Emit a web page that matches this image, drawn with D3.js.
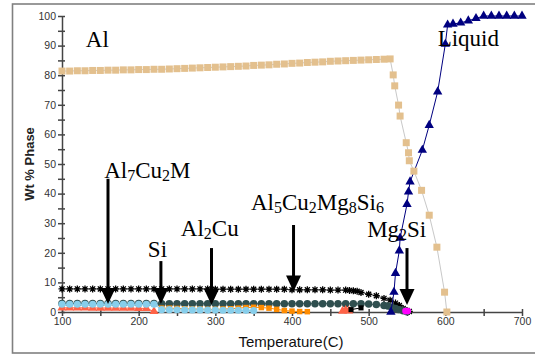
<!DOCTYPE html>
<html>
<head>
<meta charset="utf-8">
<script src="https://cdn.jsdelivr.net/npm/d3@7"></script>
<style>
  html, body { margin: 0; padding: 0; background: #fff; }
  svg { display: block; }
</style>
</head>
<body>
<svg id="chart" width="535" height="355"></svg>
<script>
// ---- Phase fractions (wt %) versus temperature (°C) ----

// Al (fcc matrix)
const alTemp = [100,110,120,130,140,150,160,170,180,190,200,210,220,230,240,250,260,270,280,290,
                300,310,320,330,340,350,360,370,380,390,400,410,420,430,440,450,460,470,480,490,
                500,510,520,528,532,534,539,541,549,552,553,559,569,579,589,599,602];
const alWt   = [81.4,81.4,81.5,81.5,81.6,81.6,81.7,81.7,81.8,81.8,81.9,81.9,82.0,82.0,82.1,82.2,82.3,82.4,82.5,82.6,
                82.7,82.8,82.9,83.0,83.1,83.3,83.4,83.5,83.7,83.8,84.0,84.1,84.3,84.4,84.5,84.7,84.8,84.9,85.0,85.1,
                85.2,85.3,85.4,85.5,80.1,76.4,69.9,66.2,57.2,53.8,51.1,47.6,41.1,32.7,21.9,6.7,0];

// Liquid
const liquidTemp = [529,533,535,540,541,550,552,554,570,579,590,600,603,610,620,630,640,650,660,670,680,690,700];
const liquidWt   = [0,6.7,13.1,20.7,25.0,36.4,40.6,44.0,54.7,63.1,74.4,90.5,97.0,97.3,97.7,98.4,99.2,100,100,100,100,100,100];

// Al7Cu2M
const al7Temp = [100,110,120,130,140,150,160,170,180,190,200,210,220,230,240,250,260,270,280,290,
                 300,310,320,330,340,350,360,370,380,390,400,410,420,430,440,450,460,470,
                 475,480,485,490,500,510,520,528,535,540,545,550,553];
const al7Wt   = [7.8,7.8,7.8,7.8,7.8,7.8,7.8,7.8,7.8,7.8,7.8,7.8,7.8,7.8,7.8,7.8,7.8,7.8,7.8,7.8,
                 7.7,7.7,7.7,7.7,7.7,7.7,7.7,7.7,7.7,7.7,7.5,7.5,7.5,7.5,7.5,7.4,7.4,7.4,
                 7.3,7.2,7.0,6.6,6.0,5.5,4.6,4.0,3.0,2.2,1.2,0.5,0.2];

// Al5Cu2Mg8Si6
const al5Temp = [100,110,120,130,140,150,160,170,180,190,200,210,220,230,240,250,260,270,280,290,
                 300,310,320,330,340,350,360,370,380,390,400,410,420,430,440,450,460,470,480,490,
                 500,510,520,525,530,535,540,545,550];
const al5Wt   = [2.9,2.9,2.9,2.9,2.9,2.9,2.9,2.9,2.9,2.9,2.9,2.9,2.9,2.8,2.8,2.8,2.8,2.8,2.8,2.8,
                 2.8,2.8,2.8,2.8,2.8,2.8,2.8,2.8,2.8,2.8,2.8,2.8,2.8,2.8,2.8,2.8,2.8,2.8,2.8,2.8,
                 2.7,2.5,2.2,2.0,1.6,1.2,0.8,0.4,0.1];

// Si
const siTemp = [100,110,120,130,140,150,160,170,180,190,200,210,220,
                230,240,250,260,270,280,290,300,310,320,330,340,350];
const siWt   = [2.6,2.6,2.6,2.6,2.6,2.6,2.6,2.6,2.6,2.6,2.6,2.6,2.6,
                0.8,0.8,0.75,0.7,0.7,0.7,0.65,0.65,0.6,0.6,0.6,0.55,0.5];

// Al2Cu
const al2cuTemp = [230,240,250,260,270,280,290,300,310,320,330,340,350,360,370,380,390,400,410,420];
const al2cuWt   = [1.3,1.3,1.2,1.1,1.0,1.0,0.9,0.9,1.0,1.1,1.3,1.5,1.6,1.5,1.3,0.9,0.5,0.3,0.15,0.1];

// Al-Cu-Mn type phase (low temperature branch and near-solidus branch)
const mnTemp = [100,110,120,130,140,150,160,170,180,190,200,210,220];
const mnWt   = [1.4,1.4,1.4,1.4,1.35,1.35,1.35,1.3,1.3,1.3,1.25,1.2,0.2];
const mn2Temp = [466,470,474];
const mn2Wt   = [0.3,0.6,0.4];

// Q-type / Mg2Si traces near the solidus
const qTemp = [477,490];
const qWt   = [0.8,1.4];
const mg2siTemp = [548,551];
const mg2siWt   = [0.3,0.3];

// Tick values
const xTicks = d3.range(100, 701, 50);
const yTicks = d3.range(0, 101, 5);

// Arrow annotations (temperature, label end → point end, in wt %)
const arrows = [
  { t: 160, from: 45, to: 2.7 },
  { t: 229, from: 17.2, to: 2.7 },
  { t: 295, from: 21.6, to: 2.4 },
  { t: 402, from: 29.4, to: 6.9 },
  { t: 550, from: 21.6, to: 2.4 }
];

// Phase labels: [text, isSubscript]
const labels = [
  { t: 131, w: 89.5, parts: [["Al", 0]] },
  { t: 590, w: 89.9, parts: [["Liquid", 0]] },
  { t: 155, w: 45.3, parts: [["Al", 0], ["7", 1], ["Cu", 0], ["2", 1], ["M", 0]] },
  { t: 212, w: 18.6, parts: [["Si", 0]] },
  { t: 255, w: 25.7, parts: [["Al", 0], ["2", 1], ["Cu", 0]] },
  { t: 346.5, w: 34.3, parts: [["Al", 0], ["5", 1], ["Cu", 0], ["2", 1], ["Mg", 0], ["8", 1], ["Si", 0], ["6", 1]] },
  { t: 498, w: 25.4, parts: [["Mg", 0], ["2", 1], ["Si", 0]] }
];

// ---- Drawing ----
const svg = d3.select("#chart");
const x = d3.scaleLinear().domain([100, 700]).range([62, 522]);
const y = d3.scaleLinear().domain([0, 100]).range([312, 16]);

// outer frame
svg.append("rect")
  .attr("x", 12.5).attr("y", 4).attr("width", 560).attr("height", 349)
  .attr("fill", "none").attr("stroke", "#808080").attr("stroke-width", 1.6);

const axisColor = "#444";
const tickFont = "'Liberation Sans', Arial, sans-serif";

const gy = svg.append("g")
  .attr("transform", `translate(${x(100)},0)`)
  .call(d3.axisLeft(y).tickValues(yTicks)
    .tickFormat(d => d % 10 === 0 ? d : "")
    .tickSizeInner(4).tickSizeOuter(0).tickPadding(2));
gy.select(".domain").attr("stroke", axisColor).attr("stroke-width", 1.5);
gy.selectAll(".tick line").attr("stroke", axisColor).attr("stroke-width", 1.5).attr("x1", 3);
gy.selectAll(".tick text").attr("font-family", tickFont).attr("font-size", 10.5).attr("fill", "#333");

const gx = svg.append("g")
  .attr("transform", `translate(0,${y(0)})`)
  .call(d3.axisBottom(x).tickValues(xTicks)
    .tickFormat(d => d % 100 === 0 ? d : "")
    .tickSizeInner(4).tickSizeOuter(0).tickPadding(2));
gx.select(".domain").attr("stroke", axisColor).attr("stroke-width", 1.5);
gx.selectAll(".tick line").attr("stroke", axisColor).attr("stroke-width", 1.5).attr("y1", -3);
gx.selectAll(".tick text").attr("font-family", tickFont).attr("font-size", 10.5).attr("fill", "#333");

// axis titles
svg.append("text")
  .attr("x", 291).attr("y", 347)
  .attr("text-anchor", "middle")
  .attr("font-family", tickFont).attr("font-size", 15).attr("fill", "#111")
  .text("Temperature(C)");
svg.append("text")
  .attr("transform", "translate(34,164) rotate(-90)")
  .attr("text-anchor", "middle")
  .attr("font-family", tickFont).attr("font-size", 13).attr("font-weight", "bold").attr("fill", "#222")
  .text("Wt % Phase");

// series helpers
const zip = (ts, ws) => ts.map((t, i) => ({ t, w: ws[i] }));
const lineGen = d3.line().x(d => x(d.t)).y(d => y(d.w));

const asterisk = {
  draw(ctx, size) {
    const r = Math.sqrt(size) / 2, s = r * 0.72;
    ctx.moveTo(-r, 0); ctx.lineTo(r, 0);
    ctx.moveTo(0, -r); ctx.lineTo(0, r);
    ctx.moveTo(-s, -s); ctx.lineTo(s, s);
    ctx.moveTo(-s, s); ctx.lineTo(s, -s);
  }
};

function drawSeries(data, o) {
  const g = svg.append("g");
  if (o.line) {
    g.append("path").attr("d", lineGen(data))
      .attr("fill", "none").attr("stroke", o.line).attr("stroke-width", o.lw || 1);
  }
  const sym = d3.symbol().type(o.type).size(o.size);
  g.selectAll("path.m").data(data).join("path")
    .attr("class", "m")
    .attr("transform", d => `translate(${x(d.t)},${y(d.w)})`)
    .attr("d", sym)
    .attr("fill", o.stroke ? "none" : o.color)
    .attr("stroke", o.stroke ? o.color : "none")
    .attr("stroke-width", o.stroke ? 1.3 : 0);
}

drawSeries(zip(al7Temp, al7Wt), { type: asterisk, size: 49, color: "#000", stroke: true, line: "#555" });
drawSeries(zip(al5Temp, al5Wt), { type: d3.symbolCircle, size: 44, color: "#2f4f4f", line: "#2f4f4f" });
drawSeries(zip(al2cuTemp, al2cuWt), { type: d3.symbolSquare, size: 30, color: "#ff8c00", line: "#ff8c00" });
drawSeries(zip(mnTemp, mnWt), { type: d3.symbolTriangle, size: 36, color: "#ff6347", line: "#ff6347" });
drawSeries(zip(mn2Temp, mn2Wt), { type: d3.symbolTriangle, size: 36, color: "#ff6347", line: "#ff6347" });
drawSeries(zip(siTemp, siWt), { type: d3.symbolCircle, size: 40, color: "#87ceeb", line: "#87ceeb" });
drawSeries(zip(qTemp, qWt), { type: d3.symbolSquare, size: 26, color: "#000", line: "#000" });
drawSeries(zip(mg2siTemp, mg2siWt), { type: d3.symbolCircle, size: 34, color: "#ff00ff" });
drawSeries(zip(liquidTemp, liquidWt), { type: d3.symbolTriangle, size: 38, color: "#000080", line: "#000080" });
drawSeries(zip(alTemp, alWt), { type: d3.symbolSquare, size: 49, color: "#e3c08e", line: "#c8c8c8" });

// arrows
const ga = svg.append("g");
arrows.forEach(a => {
  const xa = x(a.t), y0 = y(a.from), y1 = y(a.to);
  const head = 16, half = 7.5;
  ga.append("line")
    .attr("x1", xa).attr("x2", xa).attr("y1", y0).attr("y2", y1 - head + 1)
    .attr("stroke", "#000").attr("stroke-width", 3);
  ga.append("path")
    .attr("d", `M${xa},${y1}L${xa - half},${y1 - head}L${xa + half},${y1 - head}Z`)
    .attr("fill", "#000");
});

// phase labels
const gl = svg.append("g")
  .attr("font-family", "'Liberation Serif', 'Times New Roman', serif")
  .attr("font-size", 23).attr("fill", "#000");
labels.forEach(l => {
  const txt = gl.append("text").attr("x", x(l.t)).attr("y", y(l.w));
  let sub = 0;
  l.parts.forEach(([s, isSub]) => {
    const dy = (isSub ? 3 : 0) - (sub ? 3 : 0);
    txt.append("tspan")
      .attr("dy", dy)
      .attr("font-size", isSub ? 16 : 23)
      .text(s);
    sub = isSub;
  });
});
</script>
</body>
</html>
